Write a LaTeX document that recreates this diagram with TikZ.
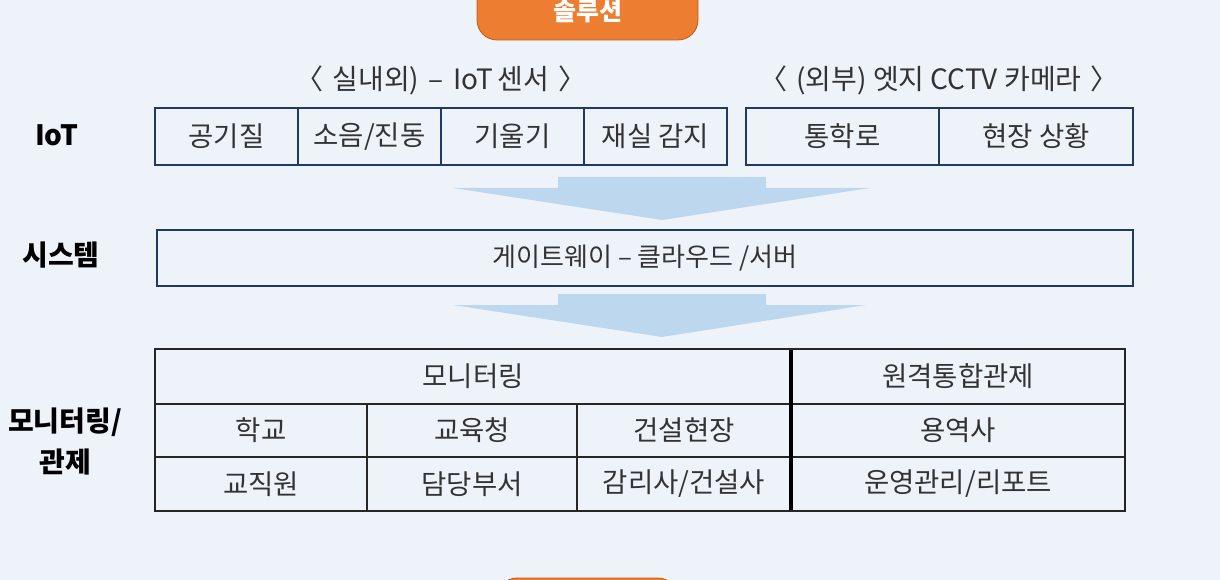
\documentclass[tikz,border=0pt]{standalone}
\usepackage{fontspec}
\setmainfont{Noto Sans CJK KR}
\usetikzlibrary{positioning}
\definecolor{bg}{HTML}{EEF3FA}
\definecolor{navy}{HTML}{1F3864}
\definecolor{orng}{HTML}{ED7D31}
\definecolor{orngdark}{HTML}{C55A11}
\definecolor{arrowblue}{HTML}{BDD7EE}
\definecolor{txt}{HTML}{333333}
\tikzset{
  iotcell/.style={draw=navy, line width=1.5pt, rectangle, inner sep=0pt, outer sep=0pt,
    minimum height=57pt, text=txt, font=\fontsize{27.5}{30}\selectfont},
  syscell/.style={draw=navy, line width=2.5pt, rectangle, inner sep=0pt, outer sep=0pt,
    minimum height=56pt, minimum width=976pt, text=txt, font=\fontsize{26}{30}\selectfont},
  tcell/.style={draw=black!85, line width=1.3pt, rectangle, inner sep=0pt, outer sep=0pt,
    text=txt, font=\fontsize{27.5}{30}\selectfont},
  rowlabel/.style={font=\bfseries\fontsize{28}{31}\selectfont, text=black, align=center},
  grouplabel/.style={font=\fontsize{28}{30}\selectfont, text=txt},
  flowarrow/.style={fill=arrowblue, draw=none},
  pill/.style={fill=orng, draw=orngdark, line width=0.8pt, rounded corners=20pt}
}
\begin{document}
\begin{tikzpicture}[x=1pt,y=-1pt]
\useasboundingbox (0,0) rectangle (1220,580);
\fill[bg] (0,0) rectangle (1220,580);

% top pill
\draw[pill] (477,-30) rectangle (698,40);
\node[font=\bfseries\fontsize{25}{27}\selectfont, text=white] (sol) at (587.5,11) {솔루션};
% bottom pill (partially visible)
\draw[pill] (497,578) rectangle (678,640);

% row labels
\node[rowlabel] (lIoT) at (57,135) {IoT};
\node[rowlabel] (lsys) at (61,255) {시스템};
\node[rowlabel, font=\bfseries\fontsize{28}{41}\selectfont] (lmon) at (65,441) {모니터링/\\관제};

% group labels
\node[grouplabel] (g1) at (441,80) {〈\,\,실내외)\,\,–\,\,IoT\,센서\,\,〉};
\node[grouplabel] (g2) at (939,80) {〈\,\,(외부) 엣지 CCTV 카메라\,\,〉};

% IoT cells
\node[iotcell, minimum width=143pt] (c1) at (226.5,136.5) {공기질};
\node[iotcell, minimum width=143pt] (c2) at (369.5,136.5) {소음/진동};
\node[iotcell, minimum width=143pt] (c3) at (512.5,136.5) {기울기};
\node[iotcell, minimum width=143pt] (c4) at (655.5,136.5) {재실 감지};
\node[iotcell, minimum width=193pt] (c5) at (842.5,136.5) {통학로};
\node[iotcell, minimum width=194pt] (c6) at (1036,136.5) {현장 상황};

% arrow 1
\fill[flowarrow] (558,177) -- (766,177) -- (766,188) -- (870,188) -- (662,220)
  -- (453,188) -- (558,188) -- cycle;

% system box
\node[syscell] (sys) at (645,258) {게이트웨이 – 클라우드 /서버};

% arrow 2
\fill[flowarrow] (558,294) -- (766,294) -- (766,305) -- (866,305) -- (662,337)
  -- (453,305) -- (558,305) -- cycle;

% monitoring table
\node[tcell, minimum width=636pt, minimum height=55pt] (mhead) at (473,376.5) {모니터링};
\node[tcell, minimum width=334pt, minimum height=55pt] (rhead) at (958,376.5) {원격통합관제};
\node[tcell, minimum width=212pt, minimum height=53pt] (m11) at (261,430.5) {학교};
\node[tcell, minimum width=210pt, minimum height=53pt] (m12) at (472,430.5) {교육청};
\node[tcell, minimum width=214pt, minimum height=53pt] (m13) at (684,430.5) {건설현장};
\node[tcell, minimum width=334pt, minimum height=53pt] (m14) at (958,430.5) {용역사};
\node[tcell, minimum width=212pt, minimum height=54pt] (m21) at (261,484) {교직원};
\node[tcell, minimum width=210pt, minimum height=54pt] (m22) at (472,484) {담당부서};
\node[tcell, minimum width=214pt, minimum height=54pt] (m23) at (684,484) {감리사/건설사};
\node[tcell, minimum width=334pt, minimum height=54pt] (m24) at (958,484) {운영관리/리포트};
% thick divider and outer border
\draw[line width=3.5pt, black] (rhead.north west) -- (m24.south west);
\draw[line width=2pt, black!85] (mhead.north west) rectangle (m24.south east);
\end{tikzpicture}
\end{document}
